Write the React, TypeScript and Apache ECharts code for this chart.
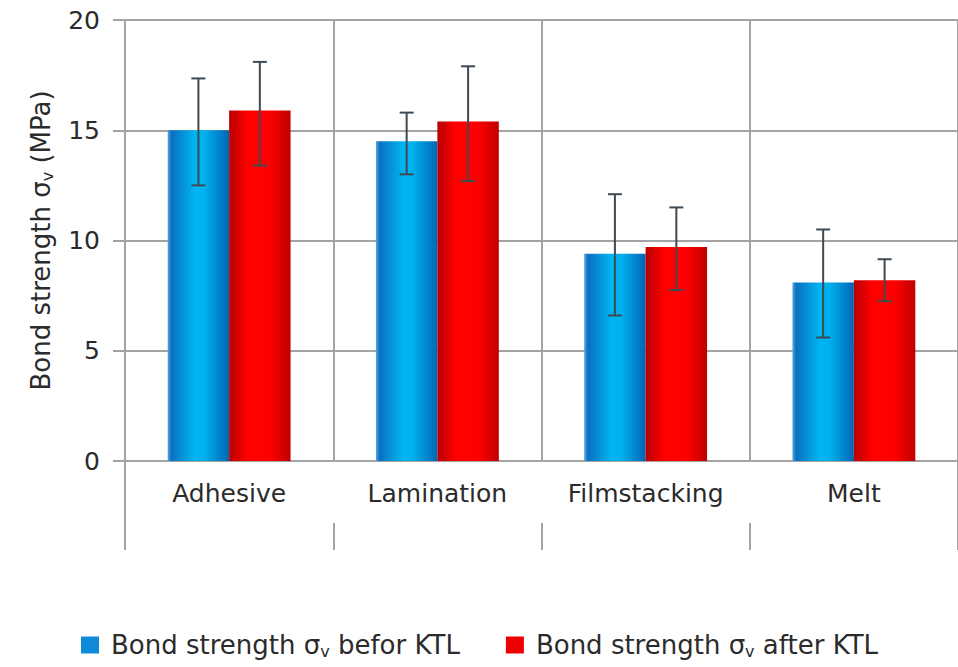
import React, { useEffect, useRef } from "react";
import * as echarts from "echarts";

const categories = ["Adhesive", "Lamination", "Filmstacking", "Melt"];
const beforeValues = [15.0, 14.5, 9.4, 8.1];
const afterValues = [15.9, 15.4, 9.7, 8.2];
const beforeLow = [12.5, 13.0, 6.6, 5.6];
const beforeHigh = [17.35, 15.8, 12.1, 10.5];
const afterLow = [13.4, 12.7, 7.75, 7.25];
const afterHigh = [18.1, 17.9, 11.5, 9.15];
const yTicks = [0, 5, 10, 15, 20];

const FONT = "DejaVu Sans";
const FS = 25;
const TEXT = "#2b2b2b";
const GRID = "#a3a3a3";
const ERR = "#3d4a54";
const GAP = 0.41;

const blueGrad = new echarts.graphic.LinearGradient(0, 0, 1, 0, [
  { offset: 0, color: "#5aa6dc" },
  { offset: 0.06, color: "#0a70c0" },
  { offset: 0.45, color: "#00b6f2" },
  { offset: 0.6, color: "#00b0ee" },
  { offset: 1, color: "#0066b4" },
]);
const redGrad = new echarts.graphic.LinearGradient(0, 0, 1, 0, [
  { offset: 0, color: "#b80000" },
  { offset: 0.3, color: "#ff0000" },
  { offset: 0.65, color: "#ff0000" },
  { offset: 1, color: "#c00000" },
]);

function errSeries(low: number[], high: number[], sign: number) {
  return {
    type: "custom",
    z: 10,
    data: categories.map((_, i) => [i, low[i], high[i]]),
    encode: { x: 0, y: [1, 2] },
    renderItem: (params: any, api: any) => {
      const xi = api.value(0);
      const lo = api.coord([xi, api.value(1)]);
      const hi = api.coord([xi, api.value(2)]);
      const band = api.size([1, 0])[0];
      const bw = (band * (1 - GAP)) / 2;
      const cx = lo[0] + (sign * bw) / 2;
      const cap = 7;
      const style = { stroke: ERR, lineWidth: 2 };
      return {
        type: "group",
        children: [
          { type: "line", shape: { x1: cx, y1: hi[1], x2: cx, y2: lo[1] }, style },
          { type: "line", shape: { x1: cx - cap, y1: hi[1], x2: cx + cap, y2: hi[1] }, style },
          { type: "line", shape: { x1: cx - cap, y1: lo[1], x2: cx + cap, y2: lo[1] }, style },
        ],
      };
    },
  };
}

const legendRich = {
  a: { fontFamily: FONT, fontSize: 26, color: TEXT },
  s: { fontFamily: FONT, fontSize: 16, color: TEXT, padding: [12, 0, 0, 0] },
};

export default function App() {
  const ref = useRef<HTMLDivElement>(null);
  useEffect(() => {
    if (!ref.current) return;
    const chart = echarts.init(ref.current, undefined, { renderer: "svg" });
    chart.setOption({
      animation: false,
      backgroundColor: "#ffffff",
      textStyle: { fontFamily: FONT, color: TEXT },
      grid: { left: 125, right: 0, top: 20, bottom: 206, containLabel: false },
      legend: {
        bottom: 3,
        left: 76,
        itemWidth: 18,
        itemHeight: 17,
        itemGap: 46,
        icon: "rect",
        data: [
          { name: "before", itemStyle: { color: "#0f8ad8" } },
          { name: "after", itemStyle: { color: "#ee0000" } },
        ],
        formatter: (name: string) =>
          name === "before"
            ? "{a|Bond strength σ}{s|v}{a| befor KTL}"
            : "{a|Bond strength σ}{s|v}{a| after KTL}",
        textStyle: { rich: legendRich, fontSize: 26, padding: [0, 0, 0, 7] },
      },
      xAxis: [
        {
          type: "category",
          data: categories,
          boundaryGap: true,
          axisLine: { show: true, lineStyle: { color: GRID, width: 2 } },
          axisTick: {
            show: true,
            length: 62,
            interval: (i: number) => i === 0,
            lineStyle: { color: GRID, width: 2 },
          },
          axisLabel: { fontSize: FS, color: TEXT, margin: 20, fontFamily: FONT },
          splitLine: { show: true, lineStyle: { color: GRID, width: 2 } },
        },
        {
          type: "category",
          data: categories,
          position: "bottom",
          offset: 62,
          boundaryGap: true,
          axisLine: { show: false },
          axisTick: { show: true, length: 27, lineStyle: { color: GRID, width: 2 } },
          axisLabel: { show: false },
          splitLine: { show: false },
        },
      ],
      yAxis: {
        type: "value",
        min: yTicks[0],
        max: yTicks[yTicks.length - 1],
        interval: 5,
        axisLine: { show: true, lineStyle: { color: GRID, width: 2 } },
        axisTick: { show: true, length: 12, lineStyle: { color: GRID, width: 2 } },
        axisLabel: { fontSize: FS, color: TEXT, margin: 25, fontFamily: FONT },
        splitLine: { show: true, lineStyle: { color: GRID, width: 2 } },
        name: "{a|Bond strength σ}{s|v}{a| (MPa)}",
        nameLocation: "middle",
        nameRotate: 90,
        nameGap: 70,
        nameTextStyle: { rich: legendRich },
      },
      series: [
        {
          name: "before",
          type: "bar",
          data: beforeValues,
          barGap: "0%",
          barCategoryGap: GAP * 100 + "%",
          itemStyle: { color: blueGrad },
        },
        {
          name: "after",
          type: "bar",
          data: afterValues,
          barGap: "0%",
          barCategoryGap: GAP * 100 + "%",
          itemStyle: { color: redGrad },
        },
        errSeries(beforeLow, beforeHigh, -1),
        errSeries(afterLow, afterHigh, 1),
      ],
    });
    return () => chart.dispose();
  }, []);
  return (
    <div
      ref={ref}
      style={{ position: "fixed", left: 0, top: 0, width: 958, height: 667, background: "#fff" }}
    />
  );
}
